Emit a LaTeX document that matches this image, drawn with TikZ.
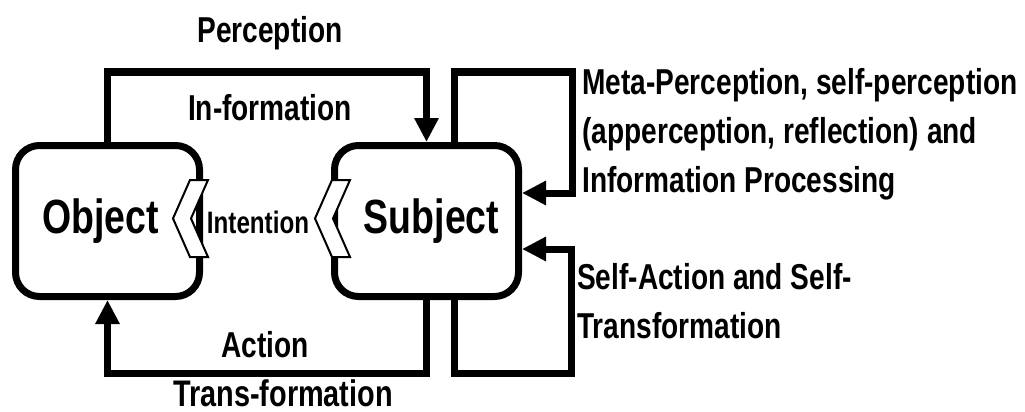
\documentclass[tikz,border=0pt]{standalone}
\usepackage{fontspec}
\setmainfont[FakeStretch=0.78]{Liberation Sans}
\usetikzlibrary{arrows.meta}

\begin{document}
\begin{tikzpicture}[x=1pt,y=-1pt,line join=miter]
% Styles
\tikzset{
  box/.style={draw,line width=7pt,rounded corners=24pt,minimum width=184pt,
    minimum height=151pt,inner sep=0pt,font=\bfseries\fontsize{48}{50}\selectfont},
  flow/.style={line width=7pt,-{Triangle[length=24pt,width=23pt]}},
  chev/.style={draw,fill=white,line width=2pt},
  lbl/.style={inner sep=0pt,anchor=base,font=\bfseries\fontsize{36}{49}\selectfont},
  chevron/.pic={\draw[chev] (0,0) -- (18,0) -- (1,38.5) -- (18,77) -- (0,77) -- (-17,38.5) -- cycle;}
}
\useasboundingbox (0,0) rectangle (1025,412);

% the two boxes
\node[box] (obj) at (107.5,221) {\raisebox{-6pt}{Object}\hspace*{14pt}};
\node[box] (subj) at (426.5,221) {\hspace*{10pt}\raisebox{-1pt}{Subject}};

% intention chevrons
\pic at (190,180) {chevron};
\pic at (332,180) {chevron};
\node[lbl,font=\bfseries\fontsize{31}{33}\selectfont] (intent) at (258,233) {Intention};

% corners of the loops
\coordinate (percTop) at (260,72);
\coordinate (actBot) at (260,373);
\coordinate (metaTop) at (572,72);
\coordinate (selfBot) at (571,373);

% connectors
\draw[flow] (obj.north) |- (percTop) -| (subj.north);
\draw[flow] (subj.south) |- (actBot) -| (obj.south);
\draw[flow] ([xshift=28pt]subj.north) |- (metaTop) |- ([yshift=28pt]subj.east);
\draw[flow] ([xshift=28pt]subj.south) |- (selfBot) |- ([yshift=-28pt]subj.east);

% labels
\node[lbl] (perc) at (270,43) {Perception};
\node[lbl] (inform) at (270,120) {In-formation};
\node[lbl] (act) at (265,357) {Action};
\node[lbl,font=\bfseries\fontsize{37}{40}\selectfont] (trans) at (283,406) {Trans-formation};
\node[lbl,anchor=north west,align=left] (meta) at (582,68)
  {Meta-Perception, self-perception\\(apperception, reflection) and\\Information Processing};
\node[lbl,anchor=north west,align=left] (selfact) at (577,263)
  {Self-Action and Self-\\Transformation};

\end{tikzpicture}
\end{document}
